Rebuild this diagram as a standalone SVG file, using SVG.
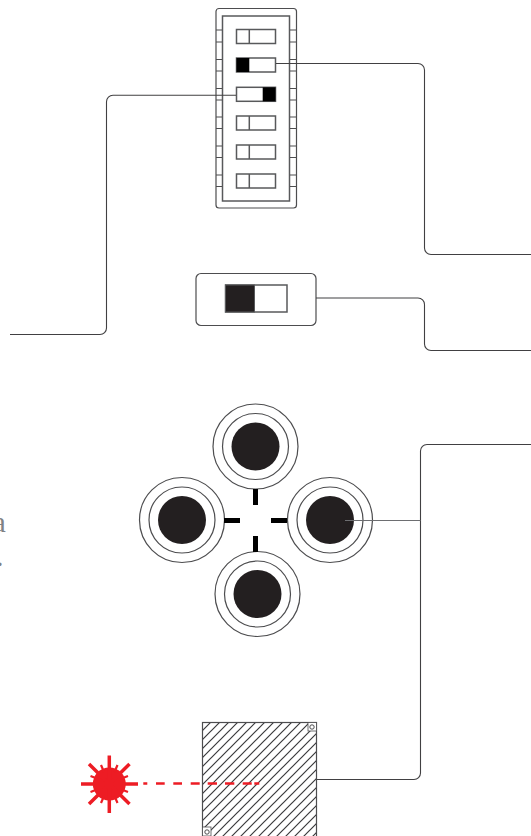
<svg xmlns="http://www.w3.org/2000/svg" width="531" height="836" viewBox="0 0 531 836">
<style>
.c{fill:none;stroke:#414042;stroke-width:1.1}
.s{fill:#fff;stroke:#58595b;stroke-width:1.5}
.o{fill:#fff;stroke:#4d4d4f;stroke-width:1.2}
.d{fill:#231f20}
.k{fill:#000}
.r{stroke:#ed1c24;fill:none}
.t{stroke:#4d4d4f;stroke-width:1.1}
</style>
<defs>
<pattern id="h" width="9" height="9" patternUnits="userSpaceOnUse" patternTransform="translate(202 722)">
<path d="M-2 2L2 -2M0 9L9 0M7 11L11 7" stroke="#3a3a3c" stroke-width="1.200" fill="none"/>
</pattern>
<rect id="sb" x="236.500" y="0" width="39" height="14" class="s"/>
<g id="sw"><use href="#sb"/><path d="M249.300 0V14" class="s"/></g>
</defs>
<rect width="531" height="836" fill="#fff"/>
<g id="dip-switch">
<rect x="216" y="8.500" width="80.500" height="199.500" rx="3" class="o"/>
<rect x="222.500" y="16" width="67" height="185" class="s"/>
<path class="t" d="M216 30H222M216 42H222M216 59.500H222M216 71H222M216 88.500H222M216 100H222M216 117H222M216 128.500H222M216 146H222M216 157.500H222M216 175H222M216 186.500H222M290 30H296M290 42H296M290 59.500H296M290 71H296M290 88.500H296M290 100H296M290 117H296M290 128.500H296M290 146H296M290 157.500H296M290 175H296M290 186.500H296"/>
<use href="#sw" y="29.500"/>
<use href="#sb" y="58"/>
<rect x="236.500" y="58" width="12.800" height="14" class="k"/>
<use href="#sb" y="87.300"/>
<rect x="262.700" y="87.300" width="12.800" height="14" class="k"/>
<use href="#sw" y="116"/>
<use href="#sw" y="145"/>
<use href="#sw" y="174"/>
</g>
<g id="slide-switch">
<rect x="196" y="273.500" width="120" height="52" rx="5" class="o"/>
<rect x="225.500" y="285" width="61.500" height="27" class="s"/>
<rect x="225.500" y="285" width="29" height="27" class="d" stroke="#58595b"/>
</g>
<g id="button-top"><circle cx="255.500" cy="446.500" r="42.500" class="o"/><circle cx="255.500" cy="446.500" r="33" class="o"/><circle cx="255.500" cy="446.500" r="24" class="d"/></g>
<g id="button-left"><circle cx="182" cy="520" r="42.500" class="o"/><circle cx="182" cy="520" r="33" class="o"/><circle cx="182" cy="520" r="24" class="d"/></g>
<g id="button-right"><circle cx="330" cy="520" r="42.500" class="o"/><circle cx="330" cy="520" r="33" class="o"/><circle cx="330" cy="520" r="24" class="d"/></g>
<g id="button-bottom"><circle cx="257.500" cy="594" r="42.500" class="o"/><circle cx="257.500" cy="594" r="33" class="o"/><circle cx="257.500" cy="594" r="24" class="d"/></g>
<g id="crosshair">
<rect x="253" y="489" width="5" height="16" class="k"/>
<rect x="253" y="536" width="5" height="16" class="k"/>
<rect x="224" y="518" width="16" height="5" class="k"/>
<rect x="271" y="518" width="16" height="5" class="k"/>
</g>
<g id="panel">
<rect x="202.500" y="722.500" width="114" height="120" fill="url(#h)" stroke="#4d4d4f" stroke-width="1.200"/>
<rect x="308" y="722.500" width="8.500" height="8.500" fill="#fff" stroke="#4d4d4f" stroke-width=".8"/>
<circle cx="312" cy="727" r="2.200" fill="#fff" stroke="#4d4d4f"/>
<rect x="202.500" y="827" width="8.500" height="9" fill="#fff" stroke="#4d4d4f" stroke-width=".8"/>
<circle cx="207" cy="832" r="2.200" fill="#fff" stroke="#4d4d4f"/>
</g>
<g id="connectors">
<path class="c" d="M236 95.300H113a6.500 6.500 0 0 0-6.500 6.500V328a6.500 6.500 0 0 1-6.500 6.500H10"/>
<path class="c" d="M276 63.500H418a6.500 6.500 0 0 1 6.500 6.500V248a6.500 6.500 0 0 0 6.500 6.500H531"/>
<path class="c" d="M316 298H418a6.500 6.500 0 0 1 6.500 6.500V344a6.500 6.500 0 0 0 6.500 6.500H531"/>
<path class="c" d="M531 444.500H427a6.500 6.500 0 0 0-6.500 6.500V773a6.500 6.500 0 0 1-6.500 6.500H317"/>
<path d="M345 520.500H420.500" stroke="#6d6e71" stroke-width="1" fill="none"/>
</g>
<g id="laser">
<circle cx="109.300" cy="784" r="16.500" fill="#ed1c24"/>
<path class="r" stroke-width="3.500" d="M81 784H138M109.300 755.500V813M89 764L129.500 804M129.500 764L89 804"/>
<path class="r" stroke-width="2.200" d="M101 765L104 772M117.500 765L114.500 772M128 776L121.500 778.500M128 792L121.500 789.500M117.500 803L114.500 796M101 803L104 796M90.500 776L97 778.500M90.500 792L97 789.500"/>
<path class="r" stroke-width="2.500" d="M143.300 783.500H147.300M156 783.500H164.700M173.300 783.500H182M190.700 783.500H199.700M207.700 783.500H217M225 783.500H234.300M242.700 783.500H251.700M254.300 783.500H259.300"/>
</g>
<text x="-7.500" y="532" font-family="'Liberation Serif',serif" font-size="30" fill="#808285">a</text>
<text x="-4" y="566" font-family="'Liberation Serif',serif" font-size="30" fill="#808285">.</text>
</svg>
